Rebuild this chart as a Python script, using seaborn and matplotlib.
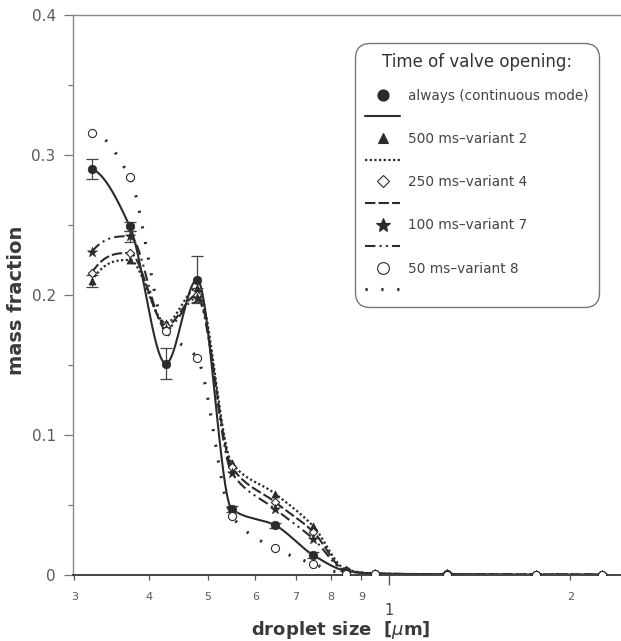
import numpy as np
import pandas as pd
import matplotlib
matplotlib.use("Agg")
import matplotlib.pyplot as plt
from matplotlib.lines import Line2D
import seaborn as sns

# droplet size classes [um]
droplet_size = [0.321, 0.371, 0.426, 0.480, 0.548, 0.647, 0.748, 0.848, 0.948, 1.248, 1.754, 2.26]

# mass fraction per size class
always_vals = [0.290, 0.249, 0.151, 0.211, 0.047, 0.0355, 0.0143, 0.003, 0.001, 0.0005, 0.0003, 0.0003]
v500_vals = [0.210, 0.225, 0.180, 0.205, 0.080, 0.058, 0.035, 0.004, 0.001, 0.0005, 0.0003, 0.0003]
v250_vals = [0.216, 0.230, 0.178, 0.200, 0.077, 0.052, 0.031, 0.003, 0.001, 0.0005, 0.0003, 0.0003]
v100_vals = [0.231, 0.242, 0.176, 0.198, 0.073, 0.047, 0.026, 0.003, 0.001, 0.0005, 0.0003, 0.0003]
v50_vals = [0.316, 0.284, 0.174, 0.155, 0.042, 0.019, 0.008, 0.001, 0.0005, 0.0003, 0.0003, 0.0003]

# standard deviations (continuous mode and a few pulsed points)
always_err = [0.007, 0.003, 0.011, 0.017, 0.002, 0.002, 0.002, 0, 0, 0, 0, 0]

series_labels = ["always (continuous mode)", "500 ms\u2013variant 2", "250 ms\u2013variant 4",
                 "100 ms\u2013variant 7", "50 ms\u2013variant 8"]

x_minor_ticks = [0.3, 0.4, 0.5, 0.6, 0.7, 0.8, 0.9, 2.0]
x_minor_labels = ["3", "4", "5", "6", "7", "8", "9", "2"]
y_ticks = [0.0, 0.1, 0.2, 0.3, 0.4]
y_tick_labels = ["0", "0.1", "0.2", "0.3", "0.4"]


def pchip(x, y, xs):
    """Shape-preserving piecewise cubic Hermite interpolation."""
    x = np.asarray(x, float)
    y = np.asarray(y, float)
    h = np.diff(x)
    d = np.diff(y) / h
    n = len(x)
    m = np.zeros(n)
    for k in range(1, n - 1):
        if d[k - 1] * d[k] <= 0:
            m[k] = 0.0
        else:
            w1 = 2 * h[k] + h[k - 1]
            w2 = h[k] + 2 * h[k - 1]
            m[k] = (w1 + w2) / (w1 / d[k - 1] + w2 / d[k])

    def end_slope(h0, h1, d0, d1):
        s = ((2 * h0 + h1) * d0 - h0 * d1) / (h0 + h1)
        if np.sign(s) != np.sign(d0):
            s = 0.0
        elif np.sign(d0) != np.sign(d1) and abs(s) > abs(3 * d0):
            s = 3 * d0
        return s

    m[0] = end_slope(h[0], h[1], d[0], d[1])
    m[-1] = end_slope(h[-1], h[-2], d[-1], d[-2])
    idx = np.clip(np.searchsorted(x, xs) - 1, 0, n - 2)
    t = (xs - x[idx]) / h[idx]
    h00 = 2 * t**3 - 3 * t**2 + 1
    h10 = t**3 - 2 * t**2 + t
    h01 = -2 * t**3 + 3 * t**2
    h11 = t**3 - t**2
    return (h00 * y[idx] + h10 * h[idx] * m[idx] + h01 * y[idx + 1] + h11 * h[idx] * m[idx + 1])


sns.set_style("ticks")
plt.rcParams["font.family"] = ["DejaVu Sans"]

ink = "#2b2b2b"
grey_txt = "#5a5a5a"

fig = plt.figure(figsize=(6.21, 6.41), dpi=100)
ax = fig.add_axes([73 / 621, 1 - 575 / 641, 547 / 621, 560 / 641])
ax.set_xscale("log")

series = [always_vals, v500_vals, v250_vals, v100_vals, v50_vals]
line_styles = [
    dict(linestyle="-", lw=1.5),
    dict(linestyle=(0, (1, 1.1)), lw=1.6),
    dict(linestyle=(0, (5, 1.5)), lw=1.5),
    dict(linestyle=(0, (5, 2, 1, 2, 1, 2)), lw=1.5),
    dict(linestyle=(0, (0.7, 4.5)), lw=2.2),
]
markers = [
    dict(marker="o", s=38, color=ink, edgecolor=ink),
    dict(marker="^", s=26, color=ink, edgecolor=ink),
    dict(marker="D", s=18, color="white", edgecolor=ink, linewidth=0.8),
    dict(marker="*", s=55, color=ink, edgecolor=ink),
    dict(marker="o", s=34, color="white", edgecolor=ink, linewidth=0.8),
]

u = np.log10(droplet_size)
u_fine = np.linspace(u[0], u[-1], 800)
x_fine = 10 ** u_fine

# smooth connecting curves
for vals, ls in zip(series, line_styles):
    curve = pd.DataFrame({"size": x_fine, "frac": pchip(u, vals, u_fine)})
    sns.lineplot(data=curve, x="size", y="frac", ax=ax, color=ink, sort=False,
                 estimator=None, linestyle=ls["linestyle"], lw=ls["lw"], zorder=2)

# error bars
err_kw = dict(fmt="none", ecolor="#444444", elinewidth=0.9, capsize=4, capthick=0.9, zorder=3)
ax.errorbar(droplet_size, always_vals, yerr=always_err, **err_kw)
ax.errorbar([droplet_size[0]], [v500_vals[0]], yerr=[0.004], **err_kw)
ax.errorbar([droplet_size[1]], [v100_vals[1]], yerr=[0.004], **err_kw)
ax.errorbar([droplet_size[3]], [v250_vals[3]], yerr=[0.005], **err_kw)

# measured points
for vals, mk in zip(series, markers):
    pts = pd.DataFrame({"size": droplet_size, "frac": vals})
    sns.scatterplot(data=pts, x="size", y="frac", ax=ax, marker=mk["marker"], s=mk["s"],
                    color=mk["color"], edgecolor=mk["edgecolor"],
                    linewidth=mk.get("linewidth", 0.5), zorder=4, legend=False)

# axes limits and ticks
ax.set_xlim(0.2986, 2.419)
ax.set_ylim(0, 0.4)
ax.set_xticks([1.0])
ax.set_xticklabels(["1"])
ax.set_xticks(x_minor_ticks, minor=True)
ax.set_xticklabels(x_minor_labels, minor=True)
ax.set_yticks(y_ticks)
ax.set_yticklabels(y_tick_labels)
ax.set_yticks([0.05, 0.15, 0.25, 0.35], minor=True)

ax.tick_params(axis="x", which="major", length=7, width=1, color="#555555",
               labelsize=10.5, labelcolor="#444444", pad=13)
ax.tick_params(axis="x", which="minor", length=3.5, width=0.9, color="#555555",
               labelsize=8, labelcolor=grey_txt, pad=9)
ax.tick_params(axis="y", which="major", length=6.5, width=0.9, color="#777777",
               labelsize=11, labelcolor=grey_txt, pad=6)
ax.tick_params(axis="y", which="minor", length=3.5, width=0.9, color="#777777")

for side in ["left", "top"]:
    ax.spines[side].set_color("#888888")
    ax.spines[side].set_linewidth(1.0)
ax.spines["bottom"].set_color("#444444")
ax.spines["bottom"].set_linewidth(1.4)
ax.spines["right"].set_visible(False)

ax.set_xlabel("droplet size  [$\\mu$m]", fontsize=13, fontweight="bold", color="#3a3a3a")
ax.set_ylabel("mass fraction", fontsize=14, fontweight="bold", color="#3a3a3a")
ax.xaxis.label.set_va("center")
ax.yaxis.label.set_va("center")
ax.xaxis.set_label_coords(0.49, -0.098)
ax.yaxis.set_label_coords(-0.104, 0.49)

# legend: marker row with label, followed by its line sample
handles, labels = [], []
leg_sizes = [8, 7.5, 6.5, 10, 8.5]
for mk, ls, lab, ms in zip(markers, line_styles, series_labels, leg_sizes):
    handles.append(Line2D([], [], marker=mk["marker"], linestyle="none", markersize=ms,
                          markerfacecolor=mk["color"], markeredgecolor=ink,
                          markeredgewidth=0.8))
    labels.append(lab)
    handles.append(Line2D([], [], color=ink, linestyle=ls["linestyle"], lw=ls["lw"]))
    labels.append(" ")

leg = ax.legend(handles, labels, title="Time of valve opening:", loc="upper right",
                bbox_to_anchor=(0.962, 0.95), borderaxespad=0, fontsize=9.8,
                title_fontsize=12, handlelength=2.6, handletextpad=0.6,
                labelspacing=0.56, borderpad=0.75, frameon=True, fancybox=True)
# extra room between the title and the first entry
leg._legend_box.sep = 12.5
frame = leg.get_frame()
frame.set_boxstyle("round", pad=0, rounding_size=1.1)
frame.set_edgecolor("#777777")
frame.set_linewidth(1.0)
frame.set_facecolor("white")
frame.set_alpha(1)
for t in leg.get_texts():
    t.set_color("#444444")
leg.get_title().set_color("#333333")

fig.savefig("out.png", dpi=100, facecolor="white")
